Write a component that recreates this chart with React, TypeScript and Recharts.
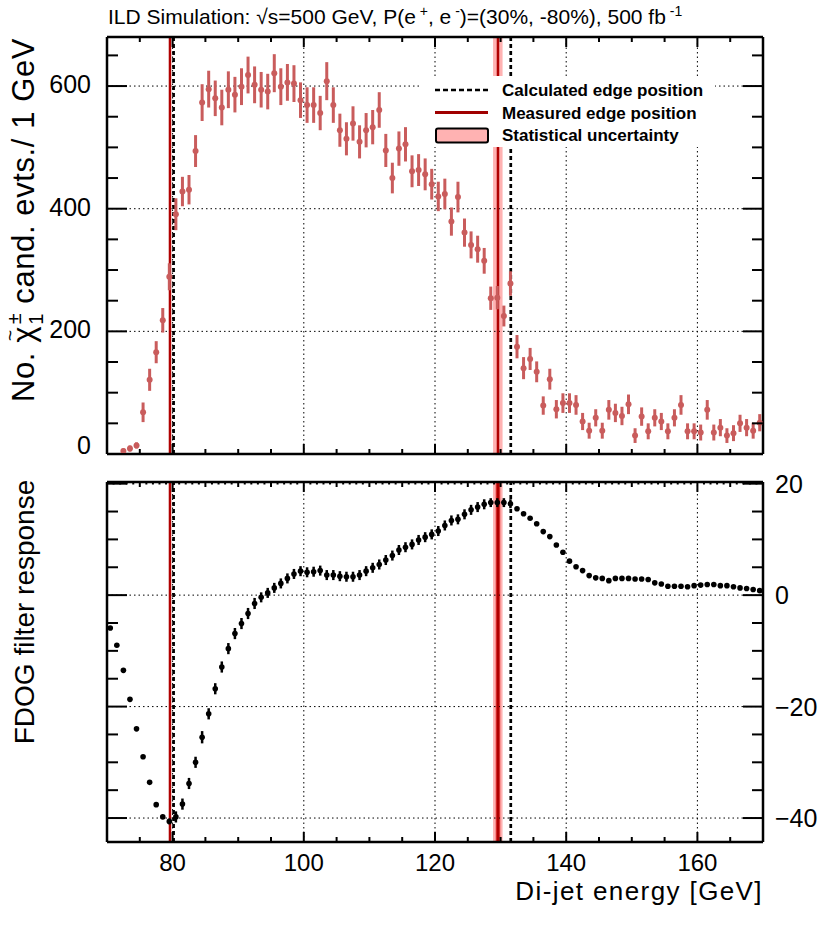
import React from 'react';
import { ComposedChart, Scatter, XAxis, YAxis, ErrorBar, ReferenceLine, ReferenceArea } from 'recharts';

// ---------- data ----------
const topEnergies = [
  72.5, 73.5, 74.5, 75.5, 76.5, 77.5, 78.5, 79.5,
  80.5, 81.5, 82.5, 83.5, 84.5, 85.5, 86.5, 87.5, 88.5, 89.5,
  90.5, 91.5, 92.5, 93.5, 94.5, 95.5, 96.5, 97.5, 98.5, 99.5,
  100.5, 101.5, 102.5, 103.5, 104.5, 105.5, 106.5, 107.5, 108.5, 109.5,
  110.5, 111.5, 112.5, 113.5, 114.5, 115.5, 116.5, 117.5, 118.5, 119.5,
  120.5, 121.5, 122.5, 123.5, 124.5, 125.5, 126.5, 127.5, 128.5, 129.5,
  130.5, 131.5, 132.5, 133.5, 134.5, 135.5, 136.5, 137.5, 138.5, 139.5,
  140.5, 141.5, 142.5, 143.5, 144.5, 145.5, 146.5, 147.5, 148.5, 149.5,
  150.5, 151.5, 152.5, 153.5, 154.5, 155.5, 156.5, 157.5, 158.5, 159.5,
  160.5, 161.5, 162.5, 163.5, 164.5, 165.5, 166.5, 167.5, 168.5, 169.5,
];
const topCounts = [
  5, 9, 14, 68, 121, 166, 218, 289,
  391, 428, 431, 494, 573, 595, 580, 565, 594, 586,
  599, 618, 602, 594, 591, 621, 599, 606, 604, 577,
  569, 569, 556, 608, 569, 528, 514, 539, 509, 528,
  533, 561, 495, 450, 498, 505, 461, 463, 456, 440,
  420, 424, 379, 419, 361, 341, 334, 315, 254, 255,
  225, 278, 175, 140, 155, 134, 79, 122, 73, 83,
  83, 80, 53, 38, 59, 38, 72, 67, 62, 81,
  30, 61, 37, 59, 53, 37, 59, 80, 37, 37,
  35, 72, 35, 43, 30, 34, 50, 43, 38, 51,
];
const topErrors = [
  4, 5, 5, 16, 18, 18, 20, 22,
  26, 24, 24, 26, 30, 30, 29, 29, 30, 29,
  30, 30, 30, 29, 29, 31, 30, 30, 30, 29,
  29, 29, 28, 31, 29, 27, 27, 28, 27, 28,
  28, 29, 27, 25, 28, 28, 26, 26, 26, 25,
  24, 25, 23, 25, 23, 22, 22, 21, 19, 19,
  17, 20, 19, 18, 18, 17, 15, 17, 15, 16,
  16, 16, 14, 13, 14, 13, 16, 15, 15, 16,
  12, 15, 13, 14, 14, 13, 14, 16, 13, 13,
  13, 16, 13, 14, 12, 13, 14, 14, 13, 14,
];

const fdogEnergies = [
  70.5, 71.5, 72.5, 73.5, 74.5, 75.5, 76.5, 77.5, 78.5, 79.5,
  80.5, 81.5, 82.5, 83.5, 84.5, 85.5, 86.5, 87.5, 88.5, 89.5,
  90.5, 91.5, 92.5, 93.5, 94.5, 95.5, 96.5, 97.5, 98.5, 99.5,
  100.5, 101.5, 102.5, 103.5, 104.5, 105.5, 106.5, 107.5, 108.5, 109.5,
  110.5, 111.5, 112.5, 113.5, 114.5, 115.5, 116.5, 117.5, 118.5, 119.5,
  120.5, 121.5, 122.5, 123.5, 124.5, 125.5, 126.5, 127.5, 128.5, 129.5,
  130.5, 131.5, 132.5, 133.5, 134.5, 135.5, 136.5, 137.5, 138.5, 139.5,
  140.5, 141.5, 142.5, 143.5, 144.5, 145.5, 146.5, 147.5, 148.5, 149.5,
  150.5, 151.5, 152.5, 153.5, 154.5, 155.5, 156.5, 157.5, 158.5, 159.5,
  160.5, 161.5, 162.5, 163.5, 164.5, 165.5, 166.5, 167.5, 168.5, 169.5,
];
const fdogValues = [
  -5.9, -9.0, -13.5, -18.7, -24.0, -29.0, -33.6, -37.6, -39.8, -40.6,
  -39.8, -37.5, -33.8, -30.0, -25.5, -21.3, -16.8, -12.9, -9.6, -6.9,
  -5.1, -3.3, -1.5, -0.4, 0.4, 1.3, 2.1, 3.0, 3.8, 4.3,
  4.1, 4.2, 4.4, 3.6, 3.6, 3.4, 3.3, 3.3, 3.6, 4.3,
  4.9, 5.5, 6.3, 7.1, 8.1, 8.6, 9.1, 9.9, 10.4, 10.9,
  11.5, 12.5, 13.4, 13.6, 14.5, 15.3, 15.8, 16.3, 16.6, 16.6,
  16.6, 16.4, 15.5, 14.6, 13.8, 12.8, 11.4, 10.5, 9.0, 7.7,
  6.1, 5.1, 4.4, 3.5, 3.1, 3.0, 2.6, 3.0, 3.0, 3.0,
  2.9, 2.9, 2.8, 2.2, 2.0, 1.6, 1.6, 1.6, 1.5, 1.7,
  1.8, 1.9, 1.9, 1.7, 1.7, 1.5, 1.3, 1.2, 1.0, 0.8,
];
const fdogErrors = [
  0.2, 0.2, 0.2, 0.2, 0.2, 0.2, 0.2, 0.2, 0.3, 0.5,
  1.0, 1.0, 1.0, 1.0, 1.1, 1.0, 1.0, 1.0, 1.0, 1.0,
  1.0, 1.0, 1.0, 0.9, 0.9, 0.9, 0.9, 0.9, 0.9, 0.9,
  0.9, 0.9, 0.9, 0.9, 0.9, 0.9, 0.9, 0.9, 0.9, 0.9,
  0.9, 0.9, 0.9, 0.9, 0.9, 0.9, 0.9, 0.9, 0.9, 0.9,
  0.9, 0.9, 0.9, 0.9, 0.9, 0.9, 0.9, 0.9, 0.8, 0.8,
  0.8, 0.8, 0.3, 0.3, 0.3, 0.3, 0.3, 0.3, 0.3, 0.3,
  0.3, 0.2, 0.2, 0.2, 0.2, 0.2, 0.2, 0.2, 0.2, 0.2,
  0.2, 0.2, 0.2, 0.2, 0.2, 0.2, 0.2, 0.2, 0.2, 0.2,
  0.2, 0.2, 0.2, 0.2, 0.2, 0.2, 0.2, 0.2, 0.2, 0.2,
];

const calculatedEdges = [80.15, 131.55];
const measuredEdges = [79.6, 129.6];
const uncertaintyBand = [128.85, 130.3];
const innerBand = [129.25, 129.95];

const xTicksCoarse = [70, 75, 80, 85, 90, 95, 100, 105, 110, 115, 120, 125, 130, 135, 140, 145, 150, 155, 160, 165, 170];
const xTicksFine = [
  70, 71, 72, 73, 74, 75, 76, 77, 78, 79, 80, 81, 82, 83, 84, 85, 86, 87, 88, 89,
  90, 91, 92, 93, 94, 95, 96, 97, 98, 99, 100, 101, 102, 103, 104, 105, 106, 107, 108, 109,
  110, 111, 112, 113, 114, 115, 116, 117, 118, 119, 120, 121, 122, 123, 124, 125, 126, 127, 128, 129,
  130, 131, 132, 133, 134, 135, 136, 137, 138, 139, 140, 141, 142, 143, 144, 145, 146, 147, 148, 149,
  150, 151, 152, 153, 154, 155, 156, 157, 158, 159, 160, 161, 162, 163, 164, 165, 166, 167, 168, 169, 170,
];
const xGrid = [80, 100, 120, 140, 160];
const topYTicks = [0, 50, 100, 150, 200, 250, 300, 350, 400, 450, 500, 550, 600, 650];
const topYGrid = [200, 400, 600];
const botYTicks = [-40, -35, -30, -25, -20, -15, -10, -5, 0, 5, 10, 15, 20];
const botYGrid = [-40, -20, 0];

const topData = topEnergies.map((x, i) => ({ x, y: topCounts[i], err: topErrors[i] }));
const botData = fdogEnergies.map((x, i) => ({ x, y: fdogValues[i], err: fdogErrors[i] }));

// ---------- style ----------
const FONT = '"Liberation Sans", Arial, Helvetica, sans-serif';
const RED_PT = '#c95c5c';
const RED_LINE = '#b00000';
const PINK = '#ffb2b2';

const makeXTick = (side: 'top' | 'bottom', labels: boolean) => (props: any) => {
  const { x, y, payload } = props;
  const v = payload.value;
  if (v === 70 || v === 170) return <g />;
  const len = v % 20 === 0 ? 10 : v % 5 === 0 ? 5 : 2.5;
  const dir = side === 'bottom' ? -1 : 1;
  return (
    <g>
      <line x1={x} x2={x} y1={y} y2={y + dir * len} stroke="#000" strokeWidth={2} />
      {labels && v % 20 === 0 ? (
        <text x={x} y={y + 29} textAnchor="middle" fontSize={24} fontFamily={FONT} fill="#000">
          {v}
        </text>
      ) : null}
    </g>
  );
};

const makeYTick = (side: 'left' | 'right', majorStep: number, labels: boolean) => (props: any) => {
  const { x, y, payload } = props;
  const v = payload.value;
  const major = v % majorStep === 0;
  const len = major ? 20 : 11;
  const dir = side === 'left' ? 1 : -1;
  let label: any = null;
  if (labels && major) {
    const txt = v < 0 ? `\u2212${Math.abs(v)}` : `${v}`;
    if (side === 'left') {
      label = (
        <text x={x - 16} y={v === 0 ? y : y + 7} textAnchor="end" fontSize={25} fontFamily={FONT} fill="#000">
          {txt}
        </text>
      );
    } else {
      label = (
        <text x={x + 12} y={y + 9} textAnchor="start" fontSize={25} fontFamily={FONT} fill="#000">
          {txt}
        </text>
      );
    }
  }
  return (
    <g>
      <line x1={x} x2={x + dir * len} y1={y} y2={y} stroke="#000" strokeWidth={2} />
      {label}
    </g>
  );
};

const dot = (color: string, r: number) => (props: any) => {
  const { cx, cy } = props;
  if (cx == null || cy == null) return <g />;
  return <circle cx={cx} cy={cy} r={r} fill={color} />;
};

const axisLine = { stroke: '#000', strokeWidth: 2.5 };

const App = () => {
  return (
    <div style={{ position: 'absolute', left: 0, top: 0, width: 830, height: 926, background: '#fff' }}>
      {/* top panel */}
      <div style={{ position: 'absolute', left: 0, top: 0 }}>
        <ComposedChart width={830} height={470} margin={{ top: 36, right: 66, bottom: 15, left: 106 }}>
          <XAxis xAxisId="b" dataKey="x" type="number" domain={[70, 170]} allowDataOverflow ticks={xTicksCoarse}
            interval={0} height={1} tickSize={0} tickMargin={0} axisLine={axisLine} tickLine={false}
            tick={makeXTick('bottom', false)} />
          <XAxis xAxisId="t" orientation="top" dataKey="x" type="number" domain={[70, 170]} allowDataOverflow ticks={xTicksCoarse}
            interval={0} height={1} tickSize={0} tickMargin={0} axisLine={axisLine} tickLine={false}
            tick={makeXTick('top', false)} />
          <YAxis yAxisId="l" dataKey="y" type="number" domain={[0, 680]} allowDataOverflow ticks={topYTicks}
            interval={0} width={1} tickSize={0} tickMargin={0} axisLine={axisLine} tickLine={false}
            tick={makeYTick('left', 200, true)} />
          <YAxis yAxisId="r" orientation="right" type="number" domain={[0, 680]} allowDataOverflow ticks={topYTicks}
            interval={0} width={1} tickSize={0} tickMargin={0} axisLine={axisLine} tickLine={false}
            tick={makeYTick('right', 200, false)} />
          {xGrid.map((g) => (
            <ReferenceLine key={'xg' + g} xAxisId="b" yAxisId="l" x={g} stroke="#000" strokeWidth={1} strokeDasharray="1.5 3" />
          ))}
          {topYGrid.map((g) => (
            <ReferenceLine key={'yg' + g} xAxisId="b" yAxisId="l" y={g} stroke="#000" strokeWidth={1} strokeDasharray="1.5 3" />
          ))}
          <ReferenceArea xAxisId="b" yAxisId="l" x1={uncertaintyBand[0]} x2={uncertaintyBand[1]} fill={PINK} fillOpacity={1} stroke="none" />
          {measuredEdges.map((m) => (
            <ReferenceLine key={'m' + m} xAxisId="b" yAxisId="l" x={m} stroke={RED_LINE} strokeWidth={2.5} />
          ))}
          {calculatedEdges.map((c) => (
            <ReferenceLine key={'c' + c} xAxisId="b" yAxisId="l" x={c} stroke="#000" strokeWidth={2.7} strokeDasharray="4 3" />
          ))}
          <Scatter data={topData} xAxisId="b" yAxisId="l" dataKey="y" isAnimationActive={false} shape={dot(RED_PT, 3)}>
            <ErrorBar dataKey="err" direction="y" width={0} stroke={RED_PT} strokeWidth={3} isAnimationActive={false} />
          </Scatter>
        </ComposedChart>
      </div>

      {/* bottom panel */}
      <div style={{ position: 'absolute', left: 0, top: 470 }}>
        <ComposedChart width={830} height={456} margin={{ top: 11, right: 66, bottom: 83, left: 106 }}>
          <XAxis xAxisId="b" dataKey="x" type="number" domain={[70, 170]} allowDataOverflow ticks={xTicksCoarse}
            interval={0} height={1} tickSize={0} tickMargin={0} axisLine={axisLine} tickLine={false}
            tick={makeXTick('bottom', true)} />
          <XAxis xAxisId="t" orientation="top" dataKey="x" type="number" domain={[70, 170]} allowDataOverflow ticks={xTicksFine}
            interval={0} height={1} tickSize={0} tickMargin={0} axisLine={axisLine} tickLine={false}
            tick={makeXTick('top', false)} />
          <YAxis yAxisId="l" dataKey="y" type="number" domain={[-44.3, 20.3]} allowDataOverflow ticks={botYTicks}
            interval={0} width={1} tickSize={0} tickMargin={0} axisLine={axisLine} tickLine={false}
            tick={makeYTick('left', 20, false)} />
          <YAxis yAxisId="r" orientation="right" type="number" domain={[-44.3, 20.3]} allowDataOverflow ticks={botYTicks}
            interval={0} width={1} tickSize={0} tickMargin={0} axisLine={axisLine} tickLine={false}
            tick={makeYTick('right', 20, true)} />
          {xGrid.map((g) => (
            <ReferenceLine key={'xg' + g} xAxisId="b" yAxisId="l" x={g} stroke="#000" strokeWidth={1} strokeDasharray="1.5 3" />
          ))}
          {botYGrid.map((g) => (
            <ReferenceLine key={'yg' + g} xAxisId="b" yAxisId="l" y={g} stroke="#000" strokeWidth={1} strokeDasharray="1.5 3" />
          ))}
          <ReferenceArea xAxisId="b" yAxisId="l" x1={uncertaintyBand[0]} x2={uncertaintyBand[1]} fill={PINK} fillOpacity={1} stroke="none" />
          <ReferenceArea xAxisId="b" yAxisId="l" x1={innerBand[0]} x2={innerBand[1]} fill="#e23a3a" fillOpacity={1} stroke="none" />
          {measuredEdges.map((m) => (
            <ReferenceLine key={'m' + m} xAxisId="b" yAxisId="l" x={m} stroke={RED_LINE} strokeWidth={2.5} />
          ))}
          {calculatedEdges.map((c) => (
            <ReferenceLine key={'c' + c} xAxisId="b" yAxisId="l" x={c} stroke="#000" strokeWidth={2.7} strokeDasharray="4 3" />
          ))}
          <Scatter data={botData} xAxisId="b" yAxisId="l" dataKey="y" isAnimationActive={false} shape={dot('#000', 2.8)}>
            <ErrorBar dataKey="err" direction="y" width={0} stroke="#000" strokeWidth={2.5} isAnimationActive={false} />
          </Scatter>
        </ComposedChart>
      </div>

      {/* texts and legend */}
      <svg width={830} height={926} style={{ position: 'absolute', left: 0, top: 0, pointerEvents: 'none' }}>
        <text x={108} y={24} fontSize={21} fontFamily={FONT} fill="#000">
          ILD Simulation: {'\u221A'}s=500 GeV, P(e
          <tspan dy={-8} fontSize={14}> +</tspan>
          <tspan dy={8}>, e</tspan>
          <tspan dy={-8} fontSize={14}> -</tspan>
          <tspan dy={8}>)=(30%, -80%), 500 fb</tspan>
          <tspan dy={-8} fontSize={14}> -1</tspan>
        </text>

        <text transform="translate(34,220) rotate(-90)" textAnchor="middle" fontSize={31} fontFamily={FONT} fill="#000" letterSpacing={0.6}>
          No. {'\u03C7'}
          <tspan dx={-15} dy={-18} fontSize={19}>~</tspan>
          <tspan dx={5} dy={5} fontSize={20}>{'\u00B1'}</tspan>
          <tspan dx={-12} dy={22} fontSize={20}>1</tspan>
          <tspan dy={-9}> cand. evts./ 1 GeV</tspan>
        </text>

        <text transform="translate(34,612) rotate(-90)" textAnchor="middle" fontSize={28} fontFamily={FONT} fill="#000">
          FDOG filter response
        </text>

        <text x={763} y={900} textAnchor="end" fontSize={26} fontFamily={FONT} fill="#000" letterSpacing={1.4}>
          Di-jet energy [GeV]
        </text>

        <g>
          <rect x={422} y={76} width={293} height={71} fill="#fff" />
          <line x1={435} x2={488} y1={90} y2={90} stroke="#000" strokeWidth={2.5} strokeDasharray="5 3" />
          <line x1={435} x2={488} y1={112.5} y2={112.5} stroke="#a00000" strokeWidth={3} />
          <rect x={436} y={128.5} width={52} height={14} fill={PINK} stroke="#000" strokeWidth={2} rx={2} />
          <text x={502} y={96} fontSize={17} fontWeight="bold" fontFamily={FONT} fill="#000">Calculated edge position</text>
          <text x={502} y={118.5} fontSize={17} fontWeight="bold" fontFamily={FONT} fill="#000">Measured edge position</text>
          <text x={502} y={141} fontSize={17} fontWeight="bold" fontFamily={FONT} fill="#000">Statistical uncertainty</text>
        </g>
      </svg>
    </div>
  );
};

export default App;
